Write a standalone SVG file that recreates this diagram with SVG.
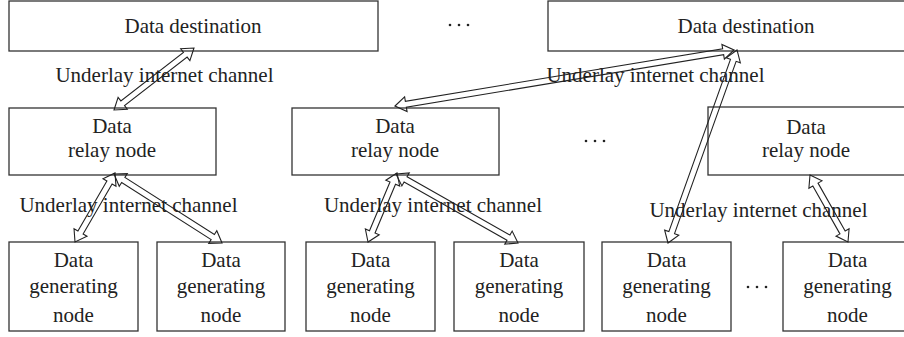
<svg xmlns="http://www.w3.org/2000/svg" width="904" height="337" viewBox="0 0 904 337">
<style>
.box{fill:#fff;stroke:#333;stroke-width:1.3}
text{font-family:'Liberation Serif','DejaVu Serif',serif;font-size:21px;fill:#222;text-anchor:middle}
.arr{fill:none;stroke:#222;stroke-width:1.1;stroke-linejoin:miter}
.dot{fill:#222}
</style>
<rect width="904" height="337" fill="#fff"/>
<g id="dest1"><rect class="box" x="9" y="1" width="369" height="50"/><text x="193" y="33" font-family="Liberation Serif">Data destination</text></g>
<g id="dest2"><rect class="box" x="548" y="1" width="370" height="50"/><text x="746" y="33" font-family="Liberation Serif">Data destination</text></g>
<g id="relay1"><rect class="box" x="9" y="108" width="207" height="67"/><text x="112" y="133" font-family="Liberation Serif">Data</text><text x="112" y="157" font-family="Liberation Serif">relay node</text></g>
<g id="relay2"><rect class="box" x="292" y="108" width="207" height="67"/><text x="395" y="133" font-family="Liberation Serif">Data</text><text x="395" y="157" font-family="Liberation Serif">relay node</text></g>
<g id="relay3"><rect class="box" x="708" y="107" width="208" height="68"/><text x="806" y="134" font-family="Liberation Serif">Data</text><text x="806" y="157" font-family="Liberation Serif">relay node</text></g>
<g id="gen1"><rect class="box" x="9" y="242" width="129" height="89"/><text x="73.5" y="267" font-family="Liberation Serif">Data</text><text x="73.5" y="293" font-family="Liberation Serif">generating</text><text x="73.5" y="322" font-family="Liberation Serif">node</text></g>
<g id="gen2"><rect class="box" x="157" y="242" width="128" height="89"/><text x="221" y="267" font-family="Liberation Serif">Data</text><text x="221" y="293" font-family="Liberation Serif">generating</text><text x="221" y="322" font-family="Liberation Serif">node</text></g>
<g id="gen3"><rect class="box" x="306" y="242" width="129" height="89"/><text x="370.5" y="267" font-family="Liberation Serif">Data</text><text x="370.5" y="293" font-family="Liberation Serif">generating</text><text x="370.5" y="322" font-family="Liberation Serif">node</text></g>
<g id="gen4"><rect class="box" x="454" y="242" width="130" height="89"/><text x="519" y="267" font-family="Liberation Serif">Data</text><text x="519" y="293" font-family="Liberation Serif">generating</text><text x="519" y="322" font-family="Liberation Serif">node</text></g>
<g id="gen5"><rect class="box" x="602" y="242" width="129" height="89"/><text x="666.5" y="267" font-family="Liberation Serif">Data</text><text x="666.5" y="293" font-family="Liberation Serif">generating</text><text x="666.5" y="322" font-family="Liberation Serif">node</text></g>
<g id="gen6"><rect class="box" x="783" y="242" width="129" height="89"/><text x="847.5" y="267" font-family="Liberation Serif">Data</text><text x="847.5" y="293" font-family="Liberation Serif">generating</text><text x="847.5" y="322" font-family="Liberation Serif">node</text></g>
<g id="ellipses">
<circle class="dot" cx="450" cy="25" r="1.3"/><circle class="dot" cx="459" cy="25" r="1.3"/><circle class="dot" cx="468" cy="25" r="1.3"/>
<circle class="dot" cx="586" cy="141" r="1.3"/><circle class="dot" cx="595" cy="141" r="1.3"/><circle class="dot" cx="604" cy="141" r="1.3"/>
<circle class="dot" cx="748" cy="287" r="1.3"/><circle class="dot" cx="757" cy="287" r="1.3"/><circle class="dot" cx="766" cy="287" r="1.3"/>
</g>
<g id="labels">
<text x="164.5" y="82" font-family="Liberation Serif">Underlay internet channel</text>
<text x="655.5" y="82" font-family="Liberation Serif">Underlay internet channel</text>
<text x="128.5" y="212" font-family="Liberation Serif">Underlay internet channel</text>
<text x="433" y="212" font-family="Liberation Serif">Underlay internet channel</text>
<text x="758.5" y="217" font-family="Liberation Serif">Underlay internet channel</text>
</g>
<g id="connectors">
<polygon class="arr" transform="translate(114,110) rotate(-37.78)" points="0,0 11,-7.5 11,-3 90.2,-3 90.2,-7.5 101.2,0 90.2,7.5 90.2,3 11,3 11,7.5"/>
<polygon class="arr" transform="translate(395,106) rotate(-9.38)" points="0,0 11,-7.5 11,-3 332.6,-3 332.6,-7.5 343.6,0 332.6,7.5 332.6,3 11,3 11,7.5"/>
<polygon class="arr" transform="translate(668,243) rotate(-70.33)" points="0,0 11,-7.5 11,-3 194,-3 194,-7.5 205,0 194,7.5 194,3 11,3 11,7.5"/>
<polygon class="arr" transform="translate(75,242) rotate(-59.9)" points="0,0 11,-7.5 11,-3 68.8,-3 68.8,-7.5 79.8,0 68.8,7.5 68.8,3 11,3 11,7.5"/>
<polygon class="arr" transform="translate(114,174) rotate(32.57)" points="0,0 11,-7.5 11,-3 117.2,-3 117.2,-7.5 128.2,0 117.2,7.5 117.2,3 11,3 11,7.5"/>
<polygon class="arr" transform="translate(368,242) rotate(-67.2)" points="0,0 11,-7.5 11,-3 63.9,-3 63.9,-7.5 74.9,0 63.9,7.5 63.9,3 11,3 11,7.5"/>
<polygon class="arr" transform="translate(396,174) rotate(29.49)" points="0,0 11,-7.5 11,-3 129.2,-3 129.2,-7.5 140.2,0 129.2,7.5 129.2,3 11,3 11,7.5"/>
<polygon class="arr" transform="translate(810,175) rotate(60.44)" points="0,0 11,-7.5 11,-3 66,-3 66,-7.5 77,0 66,7.5 66,3 11,3 11,7.5"/>
</g>
</svg>
